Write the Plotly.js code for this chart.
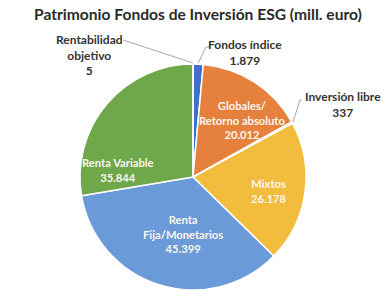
<!DOCTYPE html>
<html><head><meta charset="utf-8">
<script src="https://cdn.plot.ly/plotly-3.0.1.min.js"></script>
<style>html,body{margin:0;padding:0;background:#fff}</style>
</head><body>
<div id="chart" style="width:391px;height:300px"></div>
<script>
const categories = ['Fondos índice','Globales/Retorno absoluto','Inversión libre','Mixtos','Renta Fija/Monetarios','Renta Variable','Rentabilidad objetivo'];
const displayNames = ['Fondos índice','Globales/<br>Retorno absoluto','Inversión libre','Mixtos','Renta<br>Fija/Monetarios','Renta Variable','Rentabilidad<br>objetivo'];
const values = [1879, 20012, 337, 26178, 45399, 35844, 5];
const valueLabels = ['1.879','20.012','337','26.178','45.399','35.844','5'];
const colors = ['#4170C8','#E5803D','#A5A5A5','#F2BC3D','#6A9AD8','#6FA84A','#264478'];

const W = 391, H = 300;
const cx = 193, cy = 177, R = 113;
const px = x => x / W, py = y => 1 - y / H;

// label placement (pixel centres) and style
const labelPos = [[245,52],[242,120],[343,104],[269,191],[183,234],[118,170],[89,55]];
const inside = [false,true,false,true,true,true,false];
// outside label leader-line start points (pixels)
const leaderStart = {0:[[210,47],[206,47]], 2:[[302,100],[300,100]], 6:[[123,40]]};

const total = values.reduce((a,b)=>a+b,0);
let cum = 0;
const mids = values.map(v => { const m = (cum + v/2)/total*360; cum += v; return m; });

const annotations = [{
  text:'<b>Patrimonio Fondos de Inversión ESG (mill. euro)</b>',
  x:px(198), y:py(14), xref:'paper', yref:'paper', xanchor:'center', yanchor:'middle',
  showarrow:false, font:{family:'Lato', size:15.6, color:'#2b2b2b'}
}];
const shapes = [];
categories.forEach((c,i) => {
  const [lx,ly] = labelPos[i];
  annotations.push({
    text: '<b>' + displayNames[i] + '<br>' + valueLabels[i] + '</b>',
    x:px(lx), y:py(ly), xref:'paper', yref:'paper', xanchor:'center', yanchor:'middle',
    showarrow:false, align:'center',
    font:{family:'Lato', size: inside[i] ? 11.2 : 12, color: inside[i] ? '#fbf6ef' : '#333333'}
  });
  if (leaderStart[i]) {
    const a = mids[i] * Math.PI/180;
    const ex = cx + (R+1)*Math.sin(a), ey = cy - (R+1)*Math.cos(a);
    const pts = leaderStart[i].concat([[ex,ey]]);
    const path = pts.map((p,k)=> (k? 'L':'M') + px(p[0]).toFixed(4) + ',' + py(p[1]).toFixed(4)).join(' ');
    shapes.push({type:'path', xref:'paper', yref:'paper', path:path, line:{color:'#A6A6A6', width:1}});
  }
});

const trace = {
  type:'pie', labels:categories, values:values, sort:false, direction:'clockwise', rotation:0,
  marker:{colors:colors, line:{color:'#ffffff', width:1.5}},
  textinfo:'none', hoverinfo:'label+value',
  domain:{x:[px(cx-R), px(cx+R)], y:[py(cy+R), py(cy-R)]}
};

Plotly.newPlot('chart', [trace], {
  width:W, height:H, margin:{l:0,r:0,t:0,b:0},
  paper_bgcolor:'#ffffff', showlegend:false,
  annotations:annotations, shapes:shapes
}, {displayModeBar:false, staticPlot:true});
</script>
</body></html>
